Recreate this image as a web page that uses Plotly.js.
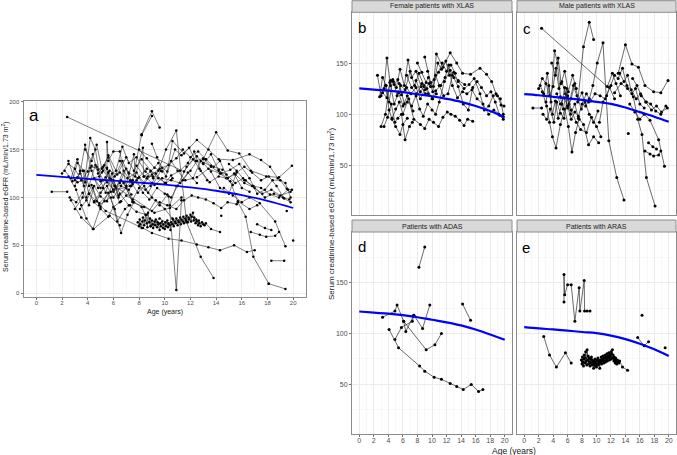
<!DOCTYPE html>
<html><head><meta charset="utf-8">
<script src="https://cdn.plot.ly/plotly-3.0.1.min.js"></script>
<style>body{margin:0;background:#fff}#chart{width:677px;height:455px}</style>
</head><body><div id="chart"></div>
<script>
// ---------- DATA ----------
const ageTicks = [0,2,4,6,8,10,12,14,16,18,20];
const egfrTicksAll = [0,50,100,150,200];
const egfrTicksFacet = [50,100,150];
const stripLabels = ["Female patients with XLAS","Male patients with XLAS","Patients with ADAS","Patients with ARAS"];
const panelLetters = ["a","b","c","d","e"];

// each patient: list of [age (years), eGFR]
const femaleXLAS = [
 [[2.5,138],[3.0,118],[3.4,125],[3.8,155],[4.3,128],[4.8,110],[5.4,121],[6.0,108],[6.6,118],[7.4,103]],
 [[2.8,117],[3.2,136],[3.7,128],[4.1,112],[4.6,134],[5.1,126],[5.6,144],[6.2,128],[6.7,153],[7.2,136],[7.8,142],[8.5,127],[9.1,120]],
 [[3.4,88],[3.9,97],[4.4,110],[4.9,92],[5.3,96],[5.8,100],[6.3,75],[6.9,88],[7.3,92]],
 [[3.0,88],[3.6,100],[4.2,131],[4.7,132],[5.2,118],[5.7,128],[6.3,124],[7.0,142],[7.6,128],[8.2,140],[8.9,128],[9.5,120],[10.1,115],[10.6,120]],
 [[3.6,128],[4.1,104],[4.5,95],[5.0,88],[5.6,80],[6.0,90],[6.6,96]],
 [[5.5,130],[6.2,110],[6.8,115],[7.5,95],[8.4,90],[9.0,86],[9.6,95],[10.2,92],[10.9,88],[11.5,97],[12.1,102],[12.6,100],[13.2,98],[13.8,94],[14.4,89],[14.9,95],[15.6,93]],
 [[9.0,156],[9.4,142],[9.8,131],[10.2,127],[10.6,159],[11.5,146],[12.5,160],[13.4,150],[14.2,140],[15.3,139],[16.6,145],[17.5,139],[18.2,132],[18.8,120],[19.4,115],[19.8,100]],
 [[7.8,133],[8.4,122],[8.9,127],[9.5,136],[10.1,122],[10.8,150],[11.3,144],[11.9,152],[12.4,138],[13.0,141],[13.6,132],[14.4,125],[15.1,129],[15.8,135],[16.6,120],[17.2,104],[17.8,108],[18.4,118],[19.0,118],[19.5,109],[19.9,108]],
 [[6.5,138],[7.2,126],[7.9,120],[8.6,130],[9.3,125],[10.0,115],[10.5,123],[11.2,128],[11.8,136],[12.3,148],[12.8,128],[13.5,116],[14.2,122],[14.8,120],[15.5,124],[16.2,115],[17.0,110],[17.8,100],[18.5,104],[19.2,100],[19.7,98]],
 [[4.5,96],[5.0,105],[5.5,112],[6.0,100],[6.6,112],[7.2,108],[7.8,118],[8.3,105],[8.8,98],[9.4,110],[10.0,104],[10.5,100],[11.0,112],[11.7,132],[12.5,143],[13.0,136],[13.6,127],[14.3,110],[15.0,104],[15.6,126],[16.2,132],[16.8,126],[17.5,118],[18.1,122],[18.7,112],[19.3,99],[19.8,95]],
 [[3.2,121],[3.8,116],[4.3,133],[4.8,129],[5.3,134],[5.8,119],[6.5,126],[7.1,120],[7.8,126],[8.4,115],[9.0,124],[9.6,130],[10.3,134],[10.9,141],[11.4,150],[12.0,142],[12.6,148],[13.2,140]],
 [[8.0,150],[8.6,141],[9.2,131],[9.8,127],[10.5,138],[11.0,128],[11.6,118],[12.2,120],[12.8,138],[13.6,133],[14.5,129]]
];

const maleXLAS = [
 [[2.4,184],[11.5,127],[12.2,140],[12.7,130],[13.3,118]],
 [[7.4,112],[8.2,166],[9.0,190],[9.6,173]],
 [[8.9,112],[9.5,128],[10.1,150],[10.9,170],[11.7,74],[12.8,38],[13.8,16]],
 [[13.0,140],[14.0,168],[14.9,149],[15.8,146],[16.7,128],[17.9,122],[18.9,121],[19.9,133]],
 [[12.5,121],[13.4,130],[14.3,125],[15.1,117],[15.7,95],[16.3,80],[16.9,38],[18.1,10]],
 [[14.6,110],[15.3,102],[16.0,95],[16.6,100],[17.4,94],[18.6,75],[19.4,49]],
 [[16.7,64],[17.4,61],[17.9,59],[18.6,60],[18.9,64]],
 [[17.2,72],[17.8,68],[18.3,66]],
 [[14.4,81]],
 [[1.2,106],[2.4,106]],
 [[2.5,122],[3.1,108],[3.5,92],[3.9,78],[4.4,67],[5.0,90],[5.6,105],[6.1,88],[6.6,63],[7.1,82],[7.6,95]],
 [[2.2,128],[2.7,120],[3.2,140],[3.7,112],[4.2,162],[4.6,150],[5.0,117],[5.4,105],[5.9,125],[6.4,100],[7.0,110],[7.5,96],[8.2,90],[8.9,70],[9.6,78],[10.3,72]],
 [[2.0,125],[2.5,135],[3.0,130],[3.5,118],[4.0,127],[4.4,145],[4.8,125],[5.2,132],[5.7,120],[6.2,110],[6.8,128],[7.3,118],[7.9,105],[8.4,112],[9.0,100],[9.6,92],[10.2,103]],
 [[3.0,112],[3.4,128],[3.9,100],[4.3,113],[4.7,96],[5.2,110],[5.6,126],[6.0,106],[6.5,115],[7.0,130],[7.5,114],[8.0,121],[8.5,108],[9.0,115]],
 [[2.6,100],[3.1,95],[3.6,105],[4.1,92],[4.5,112],[5.0,101],[5.5,96],[6.0,118],[6.5,104],[7.2,92],[7.8,85],[8.6,82],[9.3,97],[10.0,88],[10.6,78]],
 [[4.5,120],[5.0,110],[5.5,116],[6.0,108],[6.5,95],[7.0,102],[7.5,98],[8.0,110],[8.6,120],[9.2,113],[9.8,120],[10.5,118],[11.2,115],[11.8,126],[12.5,115]],
 [[10.4,92],[10.9,112],[11.4,118],[12.0,128],[12.5,138],[13.0,135],[13.6,145],[14.2,128],[14.8,124],[15.5,115],[16.1,120],[16.8,112],[17.6,104],[18.3,108],[19.0,102],[19.8,106]],
 [[15.0,135],[15.6,128],[16.2,118],[16.9,112],[17.5,110],[18.2,103],[18.9,100],[19.6,108]],
 [[13.2,140],[13.8,132],[14.3,138],[14.9,120],[15.4,125],[16.0,110],[16.6,106]],
 [[3.8,150],[4.3,138],[4.7,155],[5.1,130],[5.6,142],[6.1,122],[6.7,138],[7.2,125]]
];

const adas = [
 [[8.2,165],[9.0,185]],
 [[3.2,116],[4.9,122],[5.2,128],[6.1,112],[6.4,102],[7.4,117],[7.5,118],[8.7,105],[9.7,128]],
 [[4.9,94],[5.8,106],[7.3,112],[7.5,118]],
 [[6.1,112],[9.2,84],[10.4,89],[11.3,100]],
 [[4.1,104],[5.4,86],[8.3,68],[9.0,63],[10.3,57],[11.3,55],[12.5,51],[13.4,48],[14.3,45],[15.4,50],[16.4,43],[17.0,45]],
 [[14.2,129],[15.3,113]]
];

const aras = [
 [[5.5,131],[5.5,158],[5.6,138],[6.0,148],[6.5,148],[7.0,112],[7.6,145],[7.7,122],[8.3,152],[8.35,122],[8.7,122],[9.1,122]],
 [[16.3,118]],
 [[15.7,96],[16.6,88],[17.2,92]],
 [[19.5,86]],
 [[2.7,97],[3.5,79],[4.45,67],[5.7,81],[6.5,71]],
 [[7.9,74],[8.0,70],[8.05,77],[8.1,72],[8.2,68],[8.25,75],[8.3,79],[8.4,71],[8.45,76],[8.5,82],[8.6,73],[8.65,69],[8.7,84],[8.8,74],[8.85,78],[8.9,70],[9.0,76],[9.05,72],[9.1,68],[9.2,75],[9.25,71],[9.3,77],[9.4,69],[9.45,74],[9.5,72],[9.6,66],[9.65,73],[9.7,70],[9.8,75],[9.85,68],[9.9,72],[10.0,67],[10.05,74],[10.1,70],[10.2,76],[10.25,69],[10.3,73],[10.4,71],[10.45,66],[10.5,74],[10.6,72],[10.65,77],[10.7,70],[10.8,75],[10.85,73],[10.9,78],[11.0,71],[11.05,76],[11.1,74],[11.2,79],[11.25,72],[11.3,77],[11.4,75],[11.45,80],[11.5,73],[11.6,78],[11.65,76],[11.7,81],[11.8,74],[11.85,79],[11.9,77],[12.0,82],[12.05,75],[12.1,80],[12.2,84],[12.25,76],[12.3,79],[12.4,73],[12.45,77],[12.5,75],[12.6,71],[12.65,76],[12.7,73],[12.8,70],[12.9,74],[13.0,72],[13.1,71],[13.2,73],[13.6,67],[14.3,64]]
];

// measurements shown only in the pooled panel a
const pooledOnly = [
 [[10.3,101],[10.9,3.5],[11.3,97]],
 [[18.1,10],[19.4,4.5]],
 [[18.3,34],[19.3,34]],
 [[20.0,55]]
];

// LOESS fits
const smoothAge = [0,2,4,6,8,10,12,14,16,18,20];
const smoothAll = [123.5,121.5,119.5,117.5,115.5,113.5,110.5,107,102.5,96.5,89];
const smoothFemale = [125.2,124,123,121.5,119.5,117.5,115,112,108,103,96.8];
const smoothMale = [119.6,118.5,117,115.5,114,112,110,106.5,102,97.5,92.5];
const smoothADAS = [121.6,120.5,119.5,118,116,113.5,111,108,104,99,93.8];
const smoothARAS = [106.3,105,104,102.8,101.5,100.4,98,94.5,90,84.5,78];

// ---------- BUILD ----------
const traces = [];
function addPatients(group, xa, ya, ms, lw){
  group.forEach(p => {
    traces.push({x:p.map(d=>d[0]), y:p.map(d=>d[1]), xaxis:xa, yaxis:ya, type:'scatter',
      mode:'lines+markers', line:{color:'#2b2b2b', width:lw},
      marker:{color:'#000', size:ms}, hoverinfo:'skip'});
  });
}
function addSmooth(vals, xa, ya, w){
  traces.push({x:smoothAge, y:vals, xaxis:xa, yaxis:ya, type:'scatter', mode:'lines',
    line:{color:'#0000ff', width:w, shape:'spline'}, hoverinfo:'skip'});
}
// panel a: everything
[femaleXLAS, maleXLAS, adas, aras, pooledOnly].forEach(g => addPatients(g,'x','y',2.5,0.6));
addSmooth(smoothAll,'x','y',1.8);
addPatients(femaleXLAS,'x2','y2',3,0.7); addSmooth(smoothFemale,'x2','y2',2.2);
addPatients(maleXLAS,'x3','y3',3,0.7); addSmooth(smoothMale,'x3','y3',2.2);
addPatients(adas,'x4','y4',3,0.7); addSmooth(smoothADAS,'x4','y4',2.2);
addPatients(aras,'x5','y5',3,0.7); addSmooth(smoothARAS,'x5','y5',2.2);

const W = 677, H = 455;
const px = v => v / W, py = v => (H - v) / H;
const border = '#8c8c8c';
const base = {showline:true, mirror:true, linecolor:border, linewidth:1, zeroline:false,
  showgrid:true, gridcolor:'#ebebeb', gridwidth:1, tickcolor:'#4d4d4d', tickwidth:0.8,
  fixedrange:true};
function xAx(dom, anchor, labels, fs){
  return Object.assign({}, base, {domain:dom, anchor:anchor, range:[-1,21], tickvals:ageTicks,
    ticktext:ageTicks.map(String),
    ticks: labels ? 'outside' : '', ticklen:2, showticklabels:labels, ticklabelstandoff:-2,
    tickfont:{size:fs, color:'#4d4d4d'},
    minor:{tickvals:[1,3,5,7,9,11,13,15,17,19], showgrid:true, gridcolor:'#f3f3f3', gridwidth:0.6, ticks:''}});
}
function yAx(dom, anchor, labels, range, tv, minorv, fs){
  return Object.assign({}, base, {domain:dom, anchor:anchor, range:range, tickvals:tv,
    ticktext:tv.map(String),
    ticks: labels ? 'outside' : '', ticklen:2, showticklabels:labels,
    tickfont:{size:fs, color:'#4d4d4d'},
    minor:{tickvals:minorv, showgrid:true, gridcolor:'#f3f3f3', gridwidth:0.6, ticks:''}});
}
const xa = [px(23.5), px(306)];
const ya = [py(297), py(101)];
const xb = [px(352), px(512)], xc = [px(517), px(676)];
const yTop = [py(215), py(12.3)], yBot = [py(434), py(232)];
const facetRange = [1.3, 199.7];
const facetMinor = [25,75,125,175];

const layout = {
  width:W, height:H, margin:{l:0,r:0,t:0,b:0}, showlegend:false,
  paper_bgcolor:'#fff', plot_bgcolor:'#fff',
  font:{family:'Liberation Sans, Arial, sans-serif', color:'#4d4d4d'},
  xaxis: xAx(xa,'y',true,6),
  yaxis: yAx(ya,'x',true,[-3.9,200.7],egfrTicksAll,[25,75,125,175],6),
  xaxis2: xAx(xb,'y2',false,7),
  yaxis2: yAx(yTop,'x2',true,facetRange,egfrTicksFacet,facetMinor,7),
  xaxis3: xAx(xc,'y3',false,7),
  yaxis3: yAx(yTop,'x3',false,facetRange,egfrTicksFacet,facetMinor,7),
  xaxis4: xAx(xb,'y4',true,7),
  yaxis4: yAx(yBot,'x4',true,facetRange,egfrTicksFacet,facetMinor,7),
  xaxis5: xAx(xc,'y5',true,7),
  yaxis5: yAx(yBot,'x5',false,facetRange,egfrTicksFacet,facetMinor,7),
  shapes: [], annotations: []
};

// strips
const strips = [[xb,0.7,12.3],[xc,0.7,12.3],[xb,220,232],[xc,220,232]];
strips.forEach((s,i) => {
  layout.shapes.push({type:'rect', xref:'paper', yref:'paper', x0:s[0][0], x1:s[0][1],
    y0:py(s[2]), y1:py(s[1]), fillcolor:'#d9d9d9', line:{color:border, width:1}, layer:'above'});
  layout.annotations.push({xref:'paper', yref:'paper', x:(s[0][0]+s[0][1])/2, y:py((s[1]+s[2])/2),
    text:stripLabels[i], showarrow:false, xanchor:'center', yanchor:'middle',
    font:{size:7, color:'#1a1a1a'}});
});
// panel letters
const letterPos = [[27,116,17],[356,27,15],[521,28,15],[356,246,15],[520,247,15]];
letterPos.forEach((p,i) => layout.annotations.push({xref:'paper', yref:'paper', x:px(p[0]), y:py(p[1]),
  text:panelLetters[i], showarrow:false, xanchor:'left', yanchor:'middle', font:{size:p[2], color:'#000'}}));
// axis titles
const yTitle = 'Serum creatinine-based eGFR (mL/min/1.73 m<sup>2</sup>)';
layout.annotations.push({xref:'paper', yref:'paper', x:px(5), y:py(197), text:yTitle, textangle:-90,
  showarrow:false, xanchor:'center', yanchor:'middle', font:{size:7, color:'#1a1a1a'}});
layout.annotations.push({xref:'paper', yref:'paper', x:px(165), y:py(312), text:'Age (years)',
  showarrow:false, xanchor:'center', yanchor:'middle', font:{size:7, color:'#1a1a1a'}});
layout.annotations.push({xref:'paper', yref:'paper', x:px(331), y:py(214), text:yTitle, textangle:-90,
  showarrow:false, xanchor:'center', yanchor:'middle', font:{size:8, color:'#1a1a1a'}});
layout.annotations.push({xref:'paper', yref:'paper', x:px(514), y:py(451), text:'Age (years)',
  showarrow:false, xanchor:'center', yanchor:'middle', font:{size:8.5, color:'#1a1a1a'}});

Plotly.newPlot('chart', traces, layout, {staticPlot:true, displayModeBar:false});
</script>
</body></html>
